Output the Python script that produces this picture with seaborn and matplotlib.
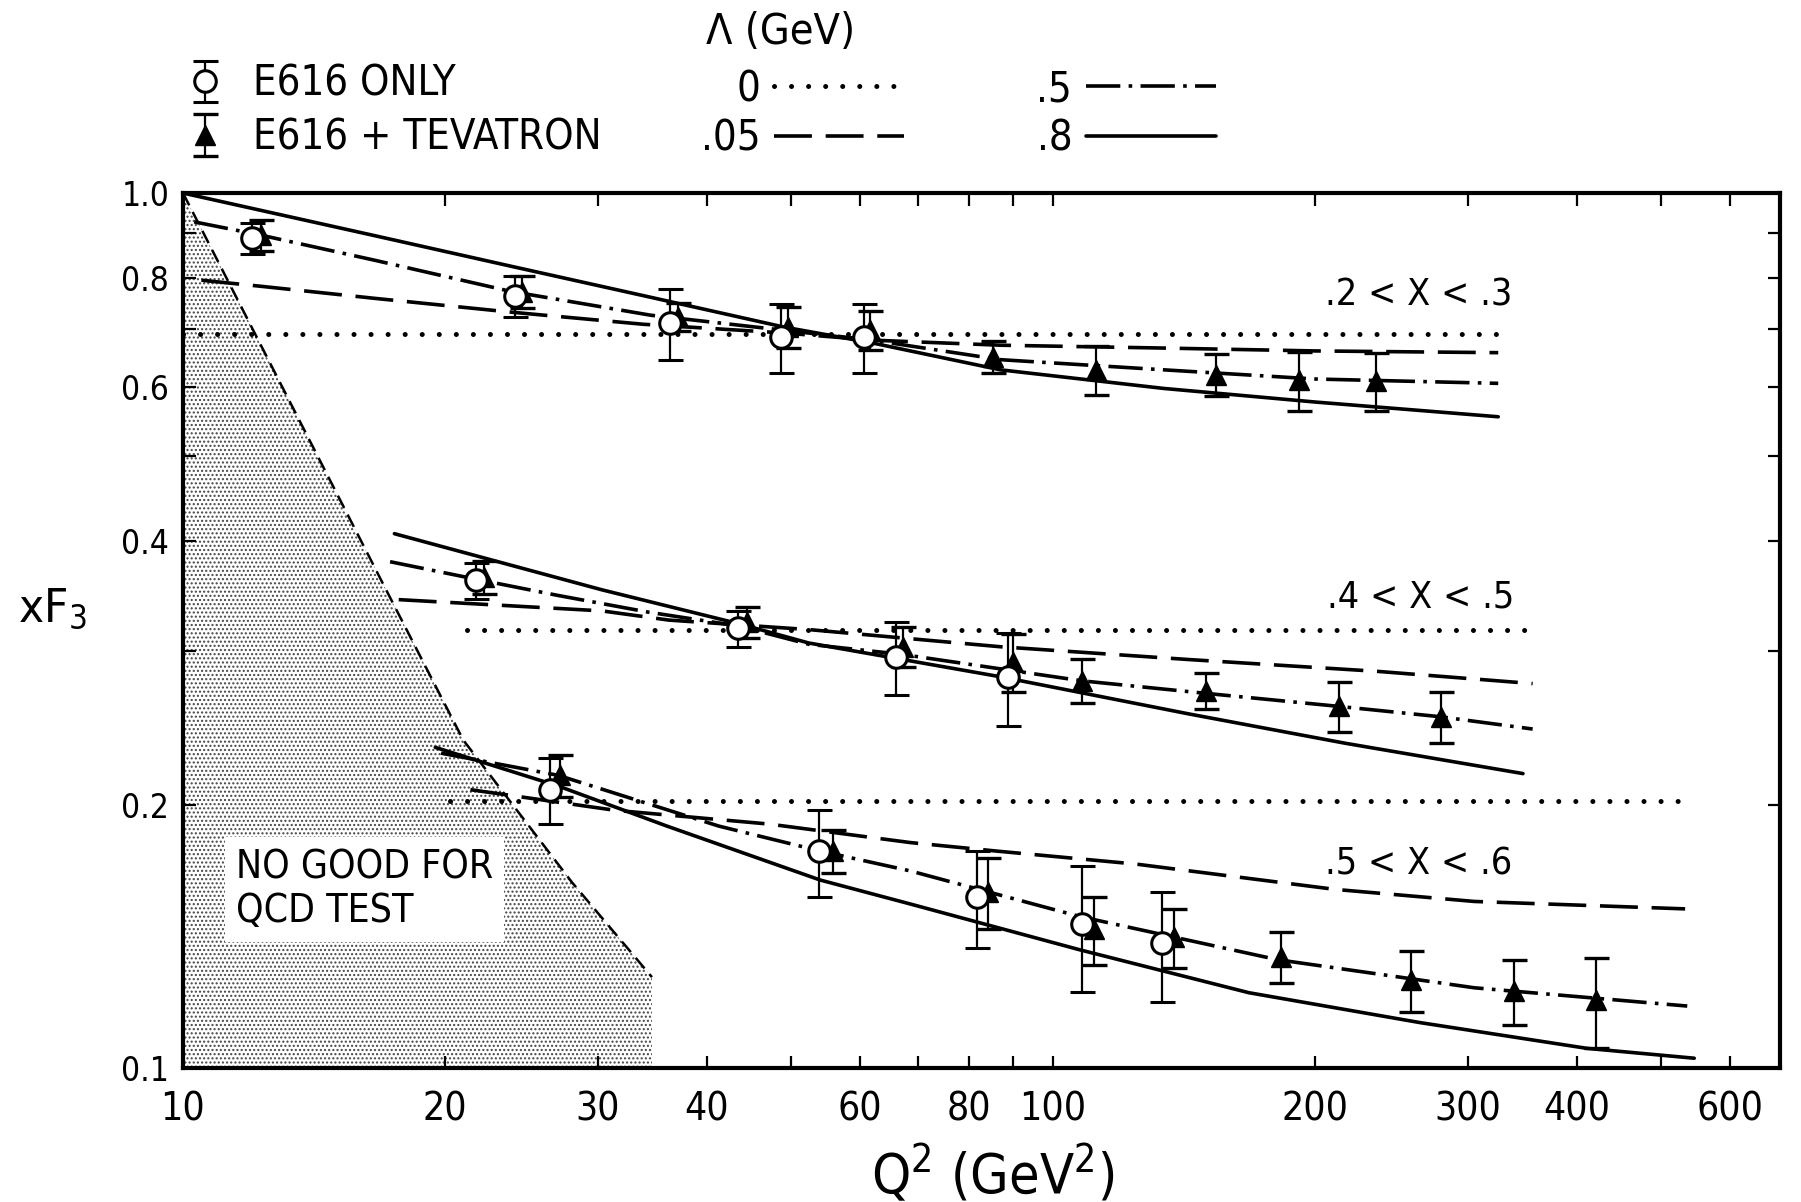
import matplotlib
matplotlib.use("Agg")
import matplotlib.pyplot as plt
from matplotlib.lines import Line2D
from matplotlib.ticker import FixedLocator, FixedFormatter, NullFormatter
import numpy as np
import pandas as pd
import seaborn as sns

# ---------------- data ----------------
bin_labels = [".2 < X < .3", ".4 < X < .5", ".5 < X < .6"]
lambda_labels = ["0", ".05", ".5", ".8"]          # Lambda (GeV)

# E616 only (open circles)
q2_open_1 = [12.0, 24.1, 36.3, 48.7, 60.6]
xf3_open_1 = [0.888, 0.763, 0.711, 0.685, 0.685]
err_open_1 = [0.037, 0.041, 0.066, 0.062, 0.062]
q2_open_2 = [21.7, 43.5, 66.0, 88.7]
xf3_open_2 = [0.361, 0.318, 0.295, 0.280]
err_open_2 = [0.017, 0.015, 0.028, 0.034]
q2_open_3 = [26.4, 53.9, 81.8, 108.0, 133.5]
xf3_open_3 = [0.208, 0.177, 0.157, 0.146, 0.139]
err_open_3 = [0.018, 0.020, 0.020, 0.024, 0.020]

# E616 + Tevatron (filled triangles)
q2_tri_1 = [12.3, 24.5, 37.1, 49.6, 61.6, 85.3, 112, 154, 192, 235]
xf3_tri_1 = [0.895, 0.771, 0.722, 0.703, 0.697, 0.650, 0.628, 0.620, 0.611, 0.610]
err_tri_1 = [0.036, 0.033, 0.026, 0.038, 0.036, 0.027, 0.040, 0.034, 0.047, 0.047]
q2_tri_2 = [22.2, 44.5, 67.2, 90, 108, 150, 213, 279]
xf3_tri_2 = [0.364, 0.323, 0.303, 0.291, 0.277, 0.270, 0.259, 0.252]
err_tri_2 = [0.016, 0.013, 0.016, 0.022, 0.016, 0.013, 0.017, 0.017]
q2_tri_3 = [27.1, 55.8, 84.3, 111.5, 137.6, 183, 258, 339, 421]
xf3_tri_3 = [0.216, 0.177, 0.159, 0.144, 0.141, 0.134, 0.126, 0.1225, 0.1195]
err_tri_3 = [0.012, 0.010, 0.015, 0.013, 0.011, 0.009, 0.010, 0.0105, 0.014]

# QCD fits, .2 < x < .3
fit_q2_1_l0 = [10, 325]
fit_xf3_1_l0 = [0.690, 0.690]
fit_q2_1_l05 = [10.5, 12.35, 16.6, 23.8, 33.8, 49, 62, 87, 134, 200, 325]
fit_xf3_1_l05 = [0.795, 0.782, 0.758, 0.731, 0.708, 0.692, 0.679, 0.670, 0.665, 0.660, 0.657]
fit_q2_1_l5 = [10.3, 12.3, 16.6, 23.8, 34.5, 49, 62, 87, 134, 200, 325]
fit_xf3_1_l5 = [0.927, 0.895, 0.838, 0.772, 0.725, 0.697, 0.679, 0.645, 0.628, 0.613, 0.606]
fit_q2_1_l8 = [10, 16.6, 23.8, 34.5, 49, 62, 87, 134, 200, 325]
fit_xf3_1_l8 = [1.0, 0.894, 0.825, 0.760, 0.703, 0.674, 0.628, 0.598, 0.577, 0.555]

# QCD fits, .4 < x < .5
fit_q2_2_l0 = [21.2, 350]
fit_xf3_2_l0 = [0.317, 0.317]
fit_q2_2_l05 = [17.7, 30.3, 36.2, 52.4, 87, 143, 236, 356]
fit_xf3_2_l05 = [0.343, 0.333, 0.325, 0.317, 0.303, 0.293, 0.284, 0.275]
fit_q2_2_l5 = [17.3, 21.7, 26.9, 34.2, 43.5, 52.4, 67, 108, 150, 213, 279, 356]
fit_xf3_2_l5 = [0.379, 0.362, 0.347, 0.332, 0.320, 0.305, 0.297, 0.277, 0.268, 0.259, 0.252, 0.244]
fit_q2_2_l8 = [17.5, 30.3, 43.5, 52.4, 87, 143, 217, 347]
fit_xf3_2_l8 = [0.408, 0.352, 0.322, 0.306, 0.280, 0.254, 0.235, 0.217]

# QCD fits, .5 < x < .6
fit_q2_3_l0 = [20.3, 545]
fit_xf3_3_l0 = [0.202, 0.202]
fit_q2_3_l05 = [21.4, 31.4, 47.2, 68.5, 86, 124.7, 211, 305, 533]
fit_xf3_3_l05 = [0.208, 0.197, 0.190, 0.181, 0.177, 0.171, 0.160, 0.155, 0.152]
fit_q2_3_l5 = [19.8, 27, 41.3, 54, 68.5, 107.3, 181, 305, 536]
fit_xf3_3_l5 = [0.229, 0.216, 0.189, 0.177, 0.168, 0.149, 0.133, 0.1235, 0.1177]
fit_q2_3_l8 = [19.5, 27, 36, 54, 68.5, 107.3, 168, 264, 411, 546]
fit_xf3_3_l8 = [0.2325, 0.210, 0.189, 0.164, 0.154, 0.1365, 0.1219, 0.1127, 0.1053, 0.1026]

# boundary of the region excluded from the QCD test
cut_q2 = [10, 16.97, 21.0, 28.0, 34.6]
cut_xf3 = [1.0, 0.358, 0.237, 0.163, 0.127]

x_tick_values = [10, 20, 30, 40, 60, 80, 100, 200, 300, 400, 600]
x_tick_labels = ["10", "20", "30", "40", "60", "80", "100", "200", "300", "400", "600"]
x_minor_values = [50, 70, 90, 500]
y_tick_values = [0.1, 0.2, 0.4, 0.6, 0.8, 1.0]
y_tick_labels = ["0.1", "0.2", "0.4", "0.6", "0.8", "1.0"]
y_minor_values = [0.3, 0.5, 0.7, 0.9]

# ---------------- style ----------------
sns.set_style("ticks", {"axes.edgecolor": "black", "text.color": "black",
                        "xtick.color": "black", "ytick.color": "black",
                        "axes.labelcolor": "black"})
plt.rcParams["font.family"] = ["DejaVu Sans"]
plt.rcParams["font.stretch"] = "condensed"
plt.rcParams["mathtext.default"] = "regular"
plt.rcParams["hatch.linewidth"] = 1.0

fig = plt.figure(figsize=(18.01, 12.02), dpi=100)
ax = fig.add_axes([0.1016, 0.1115, 0.8867, 0.7279])
ax.set_xscale("log")
ax.set_yscale("log")

# excluded region: stippled fill with a dashed edge
ax.fill_between(cut_q2, 0.1, cut_xf3, facecolor="white", edgecolor="#444444",
                hatch="....", linewidth=0, zorder=0.5)
sns.lineplot(x=cut_q2, y=cut_xf3, color="black", lw=1.8, linestyle=(0, (5.5, 3.0)),
             estimator=None, ax=ax, zorder=1)

# fitted curves
fits = [
    (bin_labels[0], "0", fit_q2_1_l0, fit_xf3_1_l0),
    (bin_labels[0], ".05", fit_q2_1_l05, fit_xf3_1_l05),
    (bin_labels[0], ".5", fit_q2_1_l5, fit_xf3_1_l5),
    (bin_labels[0], ".8", fit_q2_1_l8, fit_xf3_1_l8),
    (bin_labels[1], "0", fit_q2_2_l0, fit_xf3_2_l0),
    (bin_labels[1], ".05", fit_q2_2_l05, fit_xf3_2_l05),
    (bin_labels[1], ".5", fit_q2_2_l5, fit_xf3_2_l5),
    (bin_labels[1], ".8", fit_q2_2_l8, fit_xf3_2_l8),
    (bin_labels[2], "0", fit_q2_3_l0, fit_xf3_3_l0),
    (bin_labels[2], ".05", fit_q2_3_l05, fit_xf3_3_l05),
    (bin_labels[2], ".5", fit_q2_3_l5, fit_xf3_3_l5),
    (bin_labels[2], ".8", fit_q2_3_l8, fit_xf3_3_l8),
]
curves = pd.concat(
    [pd.DataFrame({"Q2": q, "xF3": y, "bin": b, "lam": lam}) for b, lam, q, y in fits],
    ignore_index=True)

line_styles = {
    "0": dict(lw=3.6, linestyle=(0, (0.01, 3.4)), dash_capstyle="round"),
    ".05": dict(lw=2.6, linestyle=(0, (10.5, 3.8))),
    ".5": dict(lw=2.6, linestyle=(0, (9.5, 2.3, 1.0, 2.3))),
    ".8": dict(lw=2.6, linestyle="-"),
}
for lam in lambda_labels:
    sns.lineplot(data=curves[curves["lam"] == lam], x="Q2", y="xF3", units="bin",
                 estimator=None, color="black", legend=False, ax=ax, zorder=2,
                 **line_styles[lam])

# data points with error bars
tri_kw = dict(fmt="^", ms=15, mfc="black", mec="black", color="black",
              elinewidth=1.6, capsize=9, capthick=2.4, zorder=3)
open_kw = dict(fmt="o", ms=15.5, mfc="white", mec="black", mew=2.2, color="black",
               elinewidth=1.6, capsize=9, capthick=2.4, zorder=4)
h_tri = None
for q, y, e in [(q2_tri_1, xf3_tri_1, err_tri_1), (q2_tri_2, xf3_tri_2, err_tri_2),
                (q2_tri_3, xf3_tri_3, err_tri_3)]:
    h = ax.errorbar(q, y, yerr=e, **tri_kw)
    h_tri = h_tri or h
h_open = None
for q, y, e in [(q2_open_1, xf3_open_1, err_open_1), (q2_open_2, xf3_open_2, err_open_2),
                (q2_open_3, xf3_open_3, err_open_3)]:
    h = ax.errorbar(q, y, yerr=e, **open_kw)
    h_open = h_open or h

# bin labels and region note
ax.text(263, 0.764, bin_labels[0], ha="center", va="center", fontsize=27)
ax.text(265, 0.345, bin_labels[1], ha="center", va="center", fontsize=27)
ax.text(263, 0.171, bin_labels[2], ha="center", va="center", fontsize=27)
ax.text(11.5, 0.16, "NO GOOD FOR\nQCD TEST", ha="left", va="center", fontsize=28,
        bbox=dict(facecolor="white", edgecolor="none", pad=8), zorder=5)

# axes
ax.set_xlim(10, 685)
ax.set_ylim(0.1, 1.0)
ax.xaxis.set_major_locator(FixedLocator(x_tick_values))
ax.xaxis.set_major_formatter(FixedFormatter(x_tick_labels))
ax.xaxis.set_minor_locator(FixedLocator(x_minor_values))
ax.xaxis.set_minor_formatter(NullFormatter())
ax.yaxis.set_major_locator(FixedLocator(y_tick_values))
ax.yaxis.set_major_formatter(FixedFormatter(y_tick_labels))
ax.yaxis.set_minor_locator(FixedLocator(y_minor_values))
ax.yaxis.set_minor_formatter(NullFormatter())
ax.tick_params(which="both", direction="in", top=True, right=True, length=9, width=1.6)
ax.tick_params(axis="x", which="major", labelsize=28, pad=16)
ax.tick_params(axis="y", which="major", labelsize=24, pad=10)
for s in ax.spines.values():
    s.set_linewidth(3)
    s.set_color("black")

ax.set_xlabel("Q$^2$ (GeV$^2$)", fontsize=40, va="center")
ax.xaxis.set_label_coords(0.507, -0.121)
ax.set_ylabel("xF$_3$", fontsize=34, rotation=0, ha="center", va="center")
ax.yaxis.set_label_coords(-0.082, 0.525)

# legends
fig.legend([h_open, h_tri], ["E616 ONLY", "E616 + TEVATRON"], loc="upper left",
           bbox_to_anchor=(0.102, 0.9476), frameon=False, fontsize=30,
           handlelength=1.0, handletextpad=0.66, labelspacing=0.28,
           borderpad=0, borderaxespad=0)
fig.text(706 / 1801, 1 - 32 / 1202, "Λ (GeV)", ha="left", va="center", fontsize=31)
lam_handles = [Line2D([], [], color="black", **line_styles[lam]) for lam in lambda_labels]
fig.legend(lam_handles, lambda_labels, ncol=2, loc="upper left",
           bbox_to_anchor=(0.389, 0.9434), frameon=False, fontsize=30,
           markerfirst=False, handlelength=3.12, handletextpad=0.34, columnspacing=3.17,
           labelspacing=0.18, borderpad=0, borderaxespad=0)

fig.savefig("out.png", dpi=100)
